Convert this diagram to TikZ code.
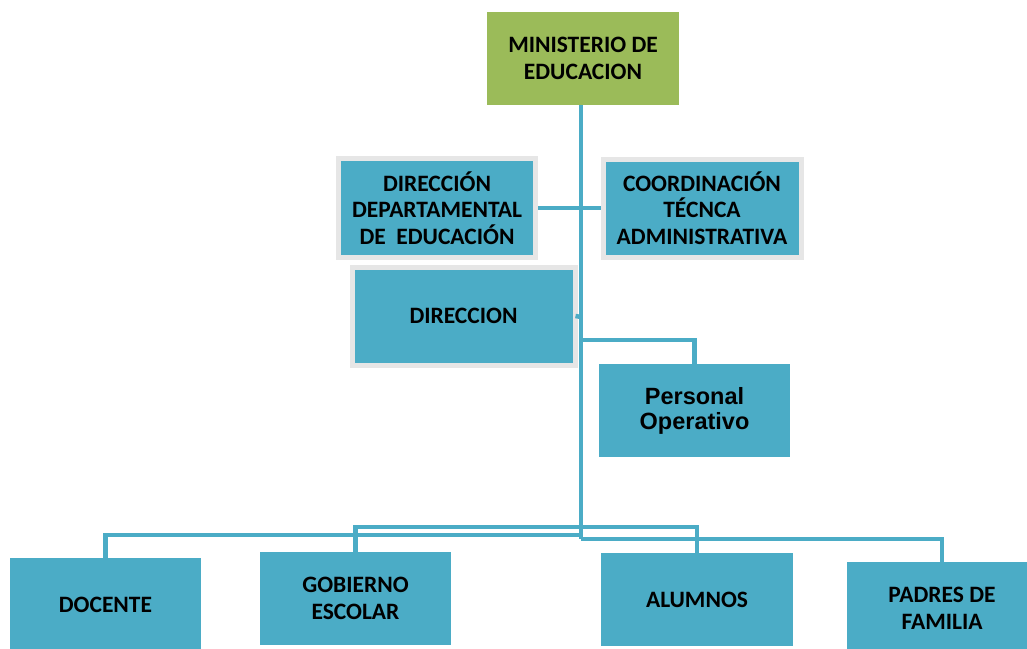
\documentclass[tikz,border=0pt]{standalone}
\usepackage{fontspec}
\setmainfont{Carlito}
\newfontfamily\arialfont{Liberation Sans}
\definecolor{teal1}{HTML}{4BACC6}
\definecolor{green1}{HTML}{9BBB59}
\definecolor{gray1}{HTML}{E6E6E6}
\begin{document}
\begin{tikzpicture}[x=1pt,y=-1pt,
  box/.style={rectangle, fill=teal1, inner sep=0pt, align=center,
    font=\bfseries\fontsize{23.5}{26.5}\selectfont, text=black},
  gbox/.style={box, draw=gray1, line width=5pt},
  conn/.style={draw=teal1, line width=4.5pt}]
\clip (0,0) rectangle (1027,648);
\fill[white] (0,0) rectangle (1027,648);
\coordinate (top) at (581,105);
\coordinate (hb) at (581,527);
\coordinate (hd) at (581,535);
\coordinate (tb) at (581,539);
\coordinate (j1) at (581,340);
\coordinate (j2) at (581,317);
% nodes
\node[box, fill=green1, minimum width=192pt, minimum height=93pt] (mde) at (583,58.5) {MINISTERIO DE\\EDUCACION};
\node[gbox, minimum width=197pt, minimum height=99pt] (ddep) at (437,208) {DIRECCIÓN\\DEPARTAMENTAL\\DE\ \ EDUCACIÓN};
\node[gbox, minimum width=198pt, minimum height=98pt] (cta) at (702,208) {COORDINACIÓN\\TÉCNCA\\ADMINISTRATIVA};
\node[gbox, minimum width=223pt, minimum height=98pt] (dir) at (463.5,316) {DIRECCION};
\node[box, minimum width=191pt, minimum height=93pt, font=\arialfont\bfseries\fontsize{23.5}{25}\selectfont] (po) at (694.5,410.5) {Personal\\Operativo};
\node[box, minimum width=191pt, minimum height=93pt] (doc) at (105.5,604.5) {DOCENTE};
\node[box, minimum width=191pt, minimum height=93pt] (gob) at (355.5,598.5) {GOBIERNO\\ESCOLAR};
\node[box, minimum width=192pt, minimum height=93pt] (alu) at (697,599.5) {ALUMNOS};
\node[box, minimum width=191pt, minimum height=93pt] (pad) at (942,608.5) {PADRES DE\\FAMILIA};
% connectors
\draw[conn] (mde.south -| top) -- (tb);
\draw[conn] (ddep.east) -- (cta.west);
\draw[conn] ([xshift=-2pt]dir.east) -- (j2);
\draw[conn] (j1) -| ([yshift=-6pt]po.north);
\draw[conn] (hd) -| ([yshift=-8pt]doc.north);
\draw[conn] ([yshift=-2pt]gob.north) |- (hb) -| ([yshift=-5pt]alu.north);
\draw[conn] (tb) -| ([yshift=-7pt]pad.north);
\end{tikzpicture}
\end{document}
